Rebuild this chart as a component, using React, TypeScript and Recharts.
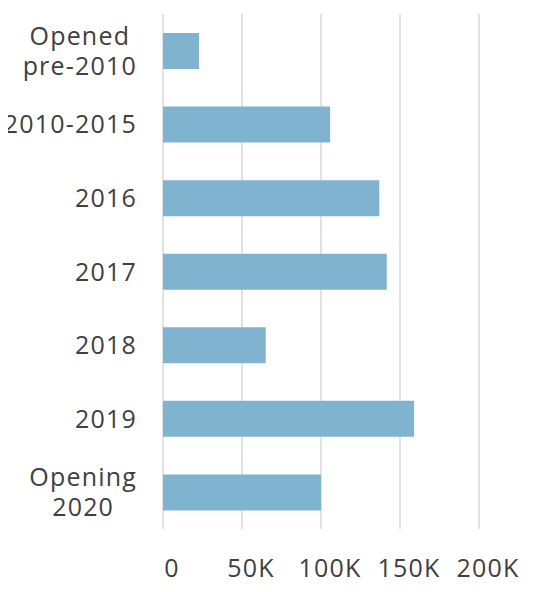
/* eslint-disable */
import { BarChart, Bar, XAxis, YAxis, CartesianGrid } from "recharts";

const categories = [
  "Opened\npre-2010",
  "2010-2015",
  "2016",
  "2017",
  "2018",
  "2019",
  "Opening\n2020",
];
const values = [22800, 105800, 136900, 141600, 65000, 158900, 100000];
const xTicks = [0, 50000, 100000, 150000, 200000];

const data = categories.map((label, i) => ({ label, value: values[i] }));

const FONT = "'Open Sans', sans-serif";
const FONT_SIZE = 25;
const SPACING = 1.2;
const TEXT = "#404040";

let ctx: CanvasRenderingContext2D | null = null;
function textWidth(s: string) {
  if (!ctx) ctx = document.createElement("canvas").getContext("2d");
  if (!ctx) return s.length * 14;
  ctx.font = `${FONT_SIZE}px ${FONT}`;
  return ctx.measureText(s).width + SPACING * s.length;
}

function CategoryTick({ x, y, payload }: any) {
  const lines = String(payload.value).split("\n");
  if (lines.length === 1) {
    return (
      <text x={x} y={y} dy="0.36em" textAnchor="end" fill={TEXT}
        fontFamily={FONT} fontSize={FONT_SIZE} letterSpacing={SPACING}>
        {lines[0]}
      </text>
    );
  }
  const w = Math.max(...lines.map(textWidth));
  const cx = x - w / 2;
  const lh = 30;
  return (
    <g>
      {lines.map((l, i) => (
        <text key={i} x={cx} y={y + (i - (lines.length - 1) / 2) * lh} dy="0.36em"
          textAnchor="middle" fill={TEXT}
          fontFamily={FONT} fontSize={FONT_SIZE} letterSpacing={SPACING}>
          {l}
        </text>
      ))}
    </g>
  );
}

function ValueTick({ x, y, payload }: any) {
  const v = payload.value;
  return (
    <text x={x + 9} y={y} dy="0.71em" textAnchor="middle" fill={TEXT}
      fontFamily={FONT} fontSize={FONT_SIZE} letterSpacing={SPACING}>
      {v === 0 ? "0" : `${v / 1000}K`}
    </text>
  );
}

export default function App() {
  return (
    <div style={{ margin: "-8px 0 0 -8px", width: 539, height: 592 }}>
      <BarChart
        width={539}
        height={592}
        data={data}
        layout="vertical"
        barSize={36}
        margin={{ top: 14, right: 60, left: 0, bottom: 0 }}
      >
        <CartesianGrid horizontal={false} stroke="#d9d9d9" strokeWidth={1.5} />
        <XAxis
          type="number"
          domain={[0, 200000]}
          ticks={xTicks}
          axisLine={false}
          tickLine={false}
          tickSize={0}
          tickMargin={30}
          height={63}
          tick={<ValueTick />}
          interval={0}
        />
        <YAxis
          type="category"
          dataKey="label"
          width={163}
          axisLine={false}
          tickLine={false}
          tickSize={0}
          tickMargin={26}
          tick={<CategoryTick />}
          interval={0}
        />
        <Bar dataKey="value" fill="#7fb3d0" isAnimationActive={false} />
      </BarChart>
    </div>
  );
}
